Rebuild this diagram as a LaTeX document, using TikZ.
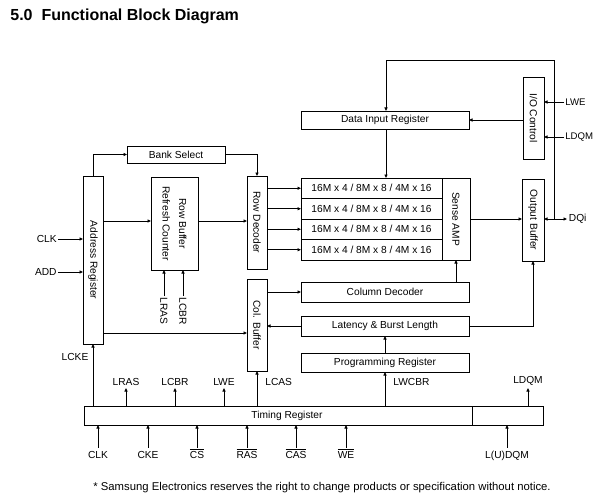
\documentclass[tikz,border=0pt]{standalone}
\usepackage{fontspec}
\setmainfont{Liberation Sans}
\usetikzlibrary{arrows.meta}
\newcommand\lbfont{\fontsize{10.2}{12}\selectfont}
\newcommand\ovl[1]{$\overline{\mbox{#1}}$}
\begin{document}
\begin{tikzpicture}[x=1pt,y=-1pt,line width=0.8pt,
  blk/.style={draw, inner sep=0pt, outer sep=0pt, font=\lbfont},
  arr/.style={-{Triangle[length=3.5pt,width=3pt]}},
  lbl/.style={inner sep=1pt, font=\lbfont},
  tlbl/.style={inner sep=2.5pt, font=\lbfont, anchor=south},
  blbl/.style={inner sep=0.5pt, font=\lbfont, text height=9.2pt, anchor=base},
  vtxt/.style={rotate=-90, inner sep=0pt, font=\lbfont, align=center}]
\fill[white] (0,0) rectangle (595,503);
\useasboundingbox (0,0) rectangle (595,503);
% title and footer
\node[anchor=base west, inner sep=0pt, font=\fontsize{16}{19}\bfseries\selectfont] (title) at (10,20.5) {5.0\ \ Functional Block Diagram};
\node[anchor=base west, inner sep=0pt, font=\fontsize{11.3}{13}\selectfont] (foot) at (93,490) {* Samsung Electronics reserves the right to change products or specification without notice.};
% blocks
\node[blk, minimum width=98pt, minimum height=17pt] (BS) at (176,154.5) {Bank Select};
\node[blk, minimum width=20pt, minimum height=168pt] (AR) at (93,260) {};
\node[vtxt] (ARt) at (AR) {Address Register};
\node[blk, minimum width=47pt, minimum height=93pt] (RB) at (174.5,223.5) {};
\node[vtxt, font=\fontsize{10.2}{16.5}\selectfont] (RBt) at (RB) {Row Buffer\\Refresh Counter};
\node[blk, minimum width=20pt, minimum height=93pt] (RD) at (257,222.5) {};
\node[vtxt] (RDt) at (RD) {Row Decoder};
\node[blk, minimum width=20pt, minimum height=92pt] (CB) at (257,325) {};
\node[vtxt] (CBt) at (CB) {Col. Buffer};
\node[blk, minimum width=168pt, minimum height=18pt] (DIR) at (385,120) {Data Input Register};
\node[blk, minimum width=21pt, minimum height=82pt] (IO) at (533.5,118) {};
\node[vtxt] (IOt) at (IO) {I/O Control};
\node[blk, minimum width=141pt, minimum height=20.5pt] (R1) at (371.5,188.25) {16M x 4 / 8M x 8 / 4M x 16};
\node[blk, minimum width=141pt, minimum height=20.5pt] (R2) at (371.5,208.75) {16M x 4 / 8M x 8 / 4M x 16};
\node[blk, minimum width=141pt, minimum height=20.5pt] (R3) at (371.5,229.25) {16M x 4 / 8M x 8 / 4M x 16};
\node[blk, minimum width=141pt, minimum height=20.5pt] (R4) at (371.5,249.75) {16M x 4 / 8M x 8 / 4M x 16};
\node[blk, minimum width=28pt, minimum height=82pt] (SA) at (456,219) {};
\node[vtxt] (SAt) at (SA) {Sense AMP};
\node[blk, minimum width=22pt, minimum height=82pt] (OB) at (533,220) {};
\node[vtxt] (OBt) at (OB) {Output Buffer};
\node[blk, minimum width=168pt, minimum height=20pt] (CD) at (385,292) {Column Decoder};
\node[blk, minimum width=168pt, minimum height=20pt] (LBL) at (385,326) {Latency \& Burst Length};
\node[blk, minimum width=168pt, minimum height=19pt] (PR) at (385,362.5) {Programming Register};
\node[blk, minimum width=388pt, minimum height=19pt] (TR) at (278,415.5) {};
\node[lbl] (TRt) at (287,416) {Timing Register};
\node[blk, minimum width=71pt, minimum height=19pt] (TR2) at (507.5,415.5) {};
% left side labels
\node[lbl, anchor=east] (clk) at (58,239) {CLK};
\node[lbl, anchor=east] (add) at (58,272) {ADD};
\node[vtxt, inner sep=1pt, anchor=west] (lrasv) at (164,296) {LRAS};
\node[vtxt, inner sep=1pt, anchor=west] (lcbrv) at (183,296) {LCBR};
\node[lbl] (lcke) at (75,356.5) {LCKE};
% labels above timing register
\node[tlbl] (lras) at (126,388) {LRAS};
\node[tlbl] (lcbr) at (175,388) {LCBR};
\node[tlbl] (lwe) at (224,388) {LWE};
\node[lbl, anchor=base west] (lcas) at (264,385) {LCAS};
\node[lbl, anchor=base west] (lwcbr) at (392,385) {LWCBR};
\node[tlbl] (ldqm) at (528,388) {LDQM};
% labels below timing register
\node[blbl] (bclk) at (98,458) {CLK};
\node[blbl] (bcke) at (148,458) {CKE};
\node[blbl] (bcs) at (197,458) {\ovl{CS}};
\node[blbl] (bras) at (247,458) {\ovl{RAS}};
\node[blbl] (bcas) at (296,458) {\ovl{CAS}};
\node[blbl] (bwe) at (346,458) {\ovl{WE}};
\node[blbl] (bdqm) at (507,458) {L(U)DQM};
% right labels
\node[lbl, anchor=west, inner sep=1pt, font=\fontsize{9.6}{11}\selectfont] (rlwe) at (564,102) {LWE};
\node[lbl, anchor=west, inner sep=1pt, font=\fontsize{9.6}{11}\selectfont] (rldqm) at (564,137) {LDQM};
\node[lbl, anchor=west, inner sep=1.5pt] (dqi) at (567,219) {DQi};
\coordinate (J) at (554,219);
\coordinate (T) at (386,60);
% connectors left
\draw[arr] (AR.north) |- (BS.west);
\draw[arr] (BS.east) -| (RD.north);
\draw[arr] (AR.east |- 0,221) -- (RB.west |- 0,221);
\draw[arr] (RB.east |- 0,221) -- (RD.west |- 0,221);
\draw[arr] (clk.east) -- (AR.west |- clk.east);
\draw[arr] (add.east) -- (AR.west |- add.east);
\draw[arr] (lrasv.west) -- (RB.south -| lrasv.west);
\draw[arr] (lcbrv.west) -- (RB.south -| lcbrv.west);
\draw[arr] (AR.east |- 0,333) -- (CB.west |- 0,333);
\draw[arr] (TR.north -| AR.south) -- (AR.south);
% timing register outputs
\draw[arr] (TR.north -| lras.south) -- (lras.south);
\draw[arr] (TR.north -| lcbr.south) -- (lcbr.south);
\draw[arr] (TR.north -| lwe.south) -- (lwe.south);
\draw[arr] (TR.north -| CB.south) -- (CB.south);
\draw[arr] (TR.north -| PR.south) -- (PR.south);
\draw[arr] (TR2.north -| ldqm.south) -- (ldqm.south);
% timing register inputs
\draw[arr] (bclk.north) -- (TR.south -| bclk.north);
\draw[arr] (bcke.north) -- (TR.south -| bcke.north);
\draw[arr] (bcs.north) -- (TR.south -| bcs.north);
\draw[arr] (bras.north) -- (TR.south -| bras.north);
\draw[arr] (bcas.north) -- (TR.south -| bcas.north);
\draw[arr] (bwe.north) -- (TR.south -| bwe.north);
\draw[arr] (bdqm.north) -- (TR2.south -| bdqm.north);
% right side
\draw[arr] (RD.east |- R1.west) -- (R1.west);
\draw[arr] (RD.east |- R2.west) -- (R2.west);
\draw[arr] (RD.east |- R3.west) -- (R3.west);
\draw[arr] (RD.east |- R4.west) -- (R4.west);
\draw[arr] (J) |- (T) -- (T |- DIR.north);
\draw[arr] (J) -- (OB.east |- J);
\draw[arr] (J) -- (dqi.west);
\draw[arr] (rlwe.west) -- (IO.east |- rlwe.west);
\draw[arr] (rldqm.west) -- (IO.east |- rldqm.west);
\draw[arr] (IO.west |- DIR.east) -- (DIR.east);
\draw[arr] (DIR.south -| T) -- (R1.north -| T);
\draw[arr] (SA.east) -- (OB.west |- SA.east);
\draw[arr] (CB.east |- CD.west) -- (CD.west);
\draw[arr] (LBL.west) -- (CB.east |- LBL.west);
\draw[arr] (CD.north -| SA.south) -- (SA.south);
\draw[arr] (LBL.east) -| (OB.south);
\draw[arr] (PR.north) -- (LBL.south);
\end{tikzpicture}
\end{document}
